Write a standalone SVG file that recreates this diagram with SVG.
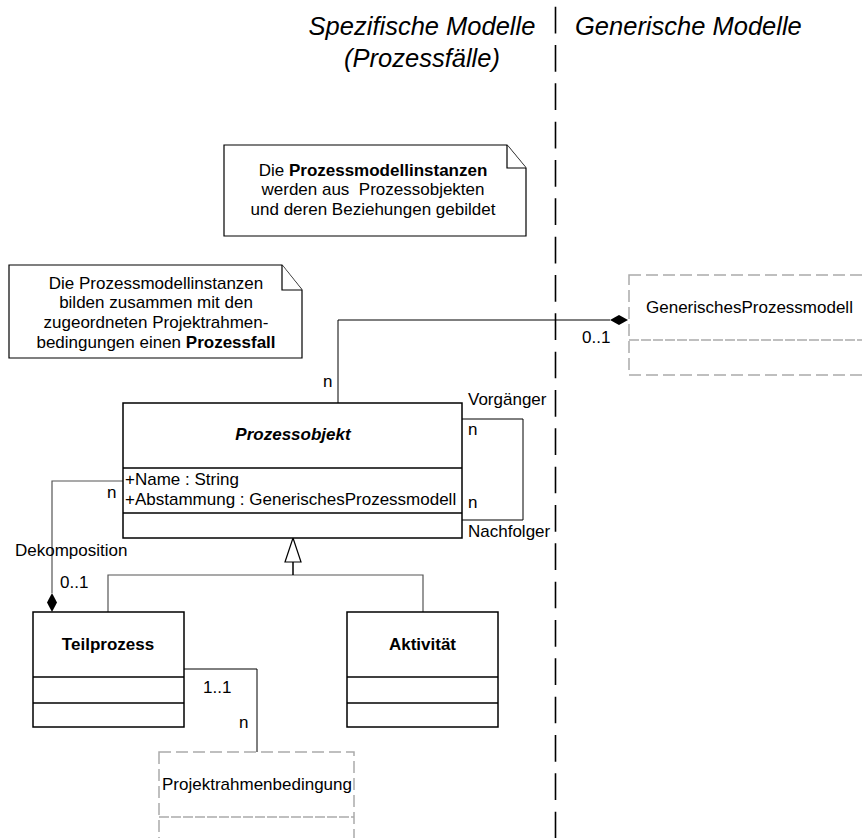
<svg xmlns="http://www.w3.org/2000/svg" width="862" height="838" viewBox="0 0 862 838">
  <style>
    text { font-family: "Liberation Sans", Arial, sans-serif; font-size: 17px; fill: #000; }
    .title { font-size: 25.5px; font-style: italic; }
    .b { font-weight: bold; }
    .bi { font-weight: bold; font-style: italic; }
    .box { fill: #fff; stroke: #000; stroke-width: 1.5; }
    .sep { stroke: #000; stroke-width: 1.5; fill: none; }
    .gbox { fill: none; stroke: #aaa; stroke-width: 1.5; stroke-dasharray: 12 5; }
    .gsep { stroke: #aaa; stroke-width: 1.5; stroke-dasharray: 10 2; fill: none; }
    .note { fill: #fff; stroke: #000; stroke-width: 1.2; }
    .conn { fill: none; stroke: #000; stroke-width: 1; }
    .tree { fill: none; stroke: #555; stroke-width: 1.2; }
    .divider { stroke: #000; stroke-width: 1.6; stroke-dasharray: 26.7 11.63; }
  </style>

  <!-- region divider -->
  <line class="divider" x1="555.5" y1="6.7" x2="555.5" y2="838"/>

  <!-- region titles -->
  <g id="titles">
    <text class="title" x="422" y="35" text-anchor="middle">Spezifische Modelle</text>
    <text class="title" x="422" y="67" text-anchor="middle">(Prozessfälle)</text>
    <text class="title" x="575" y="35">Generische Modelle</text>
  </g>

  <!-- connectors -->
  <g id="connectors">
    <!-- Prozessobjekt to GenerischesProzessmodell (composition) -->
    <polyline class="conn" points="338,403 338,320 610,320"/>
    <polygon points="628,320 619,315 610,320 619,325" fill="#000"/>
    <!-- self association Vorgänger / Nachfolger -->
    <polyline class="conn" points="462,419 523,419 523,520 462,520"/>
    <!-- Dekomposition (composition) -->
    <polyline class="tree" points="123,481 52,481 52,593"/>
    <polygon points="52,612 47,602.5 52,593 57,602.5" fill="#000"/>
    <!-- generalization -->
    <polyline class="tree" points="108,612 108,575 423,575 423,612"/>
    <line x1="293" y1="562" x2="293" y2="575" stroke="#000" stroke-width="1.5"/>
    <polygon points="293,538 285,562 301,562" fill="#fff" stroke="#000" stroke-width="1.2"/>
    <!-- Teilprozess to Projektrahmenbedingung -->
    <polyline class="conn" points="184,669 257,669 257,752"/>
  </g>

  <!-- connector labels -->
  <g id="labels">
    <text x="323" y="387">n</text>
    <text x="582" y="343">0..1</text>
    <text x="468" y="405">Vorgänger</text>
    <text x="468" y="435">n</text>
    <text x="468" y="508">n</text>
    <text x="468" y="537">Nachfolger</text>
    <text x="107" y="498">n</text>
    <text x="15" y="556">Dekomposition</text>
    <text x="60" y="588">0..1</text>
    <text x="203" y="693">1..1</text>
    <text x="239" y="728">n</text>
  </g>

  <!-- note: Prozessmodellinstanzen -->
  <g id="note-instanzen">
    <path class="note" d="M224,145 H507 L526,168 V236 H224 Z"/>
    <polyline class="note" fill="none" points="507,145 507,168 526,168"/>
    <text x="373" y="176" text-anchor="middle">Die <tspan class="b">Prozessmodellinstanzen</tspan></text>
    <text x="373" y="195" text-anchor="middle" xml:space="preserve">werden aus  Prozessobjekten</text>
    <text x="373" y="215" text-anchor="middle">und deren Beziehungen gebildet</text>
  </g>

  <!-- note: Prozessfall -->
  <g id="note-prozessfall">
    <path class="note" d="M9,265 H282 L302,290 V358 H9 Z"/>
    <polyline class="note" fill="none" points="282,265 282,290 302,290"/>
    <text x="156" y="289" text-anchor="middle">Die Prozessmodellinstanzen</text>
    <text x="156" y="308" text-anchor="middle">bilden zusammen mit den</text>
    <text x="156" y="328" text-anchor="middle">zugeordneten Projektrahmen-</text>
    <text x="156" y="348" text-anchor="middle">bedingungen einen <tspan class="b">Prozessfall</tspan></text>
  </g>

  <!-- GenerischesProzessmodell -->
  <g id="generisches-prozessmodell">
    <rect class="gbox" x="629" y="275" width="245" height="100"/>
    <line class="gsep" x1="629" y1="340" x2="874" y2="340"/>
    <text x="646" y="313">GenerischesProzessmodell</text>
  </g>

  <!-- Prozessobjekt -->
  <g id="prozessobjekt">
    <rect class="box" x="123" y="403" width="339" height="135"/>
    <line class="sep" x1="123" y1="468" x2="462" y2="468"/>
    <line class="sep" x1="123" y1="513" x2="462" y2="513"/>
    <text class="bi" x="293" y="440" text-anchor="middle">Prozessobjekt</text>
    <text x="125" y="485">+Name : String</text>
    <text x="125" y="505">+Abstammung : GenerischesProzessmodell</text>
  </g>

  <!-- Teilprozess -->
  <g id="teilprozess">
    <rect class="box" x="33" y="612" width="151" height="115"/>
    <line class="sep" x1="33" y1="677" x2="184" y2="677"/>
    <line class="sep" x1="33" y1="703" x2="184" y2="703"/>
    <text class="b" x="108" y="650" text-anchor="middle">Teilprozess</text>
  </g>

  <!-- Aktivität -->
  <g id="aktivitaet">
    <rect class="box" x="347" y="612" width="151" height="115"/>
    <line class="sep" x1="347" y1="677" x2="498" y2="677"/>
    <line class="sep" x1="347" y1="703" x2="498" y2="703"/>
    <text class="b" x="422.5" y="650" text-anchor="middle">Aktivität</text>
  </g>

  <!-- Projektrahmenbedingung -->
  <g id="projektrahmenbedingung">
    <rect class="gbox" x="159" y="752" width="195" height="100"/>
    <line class="gsep" x1="159" y1="817" x2="354" y2="817"/>
    <text x="162" y="790">Projektrahmenbedingung</text>
  </g>
</svg>
